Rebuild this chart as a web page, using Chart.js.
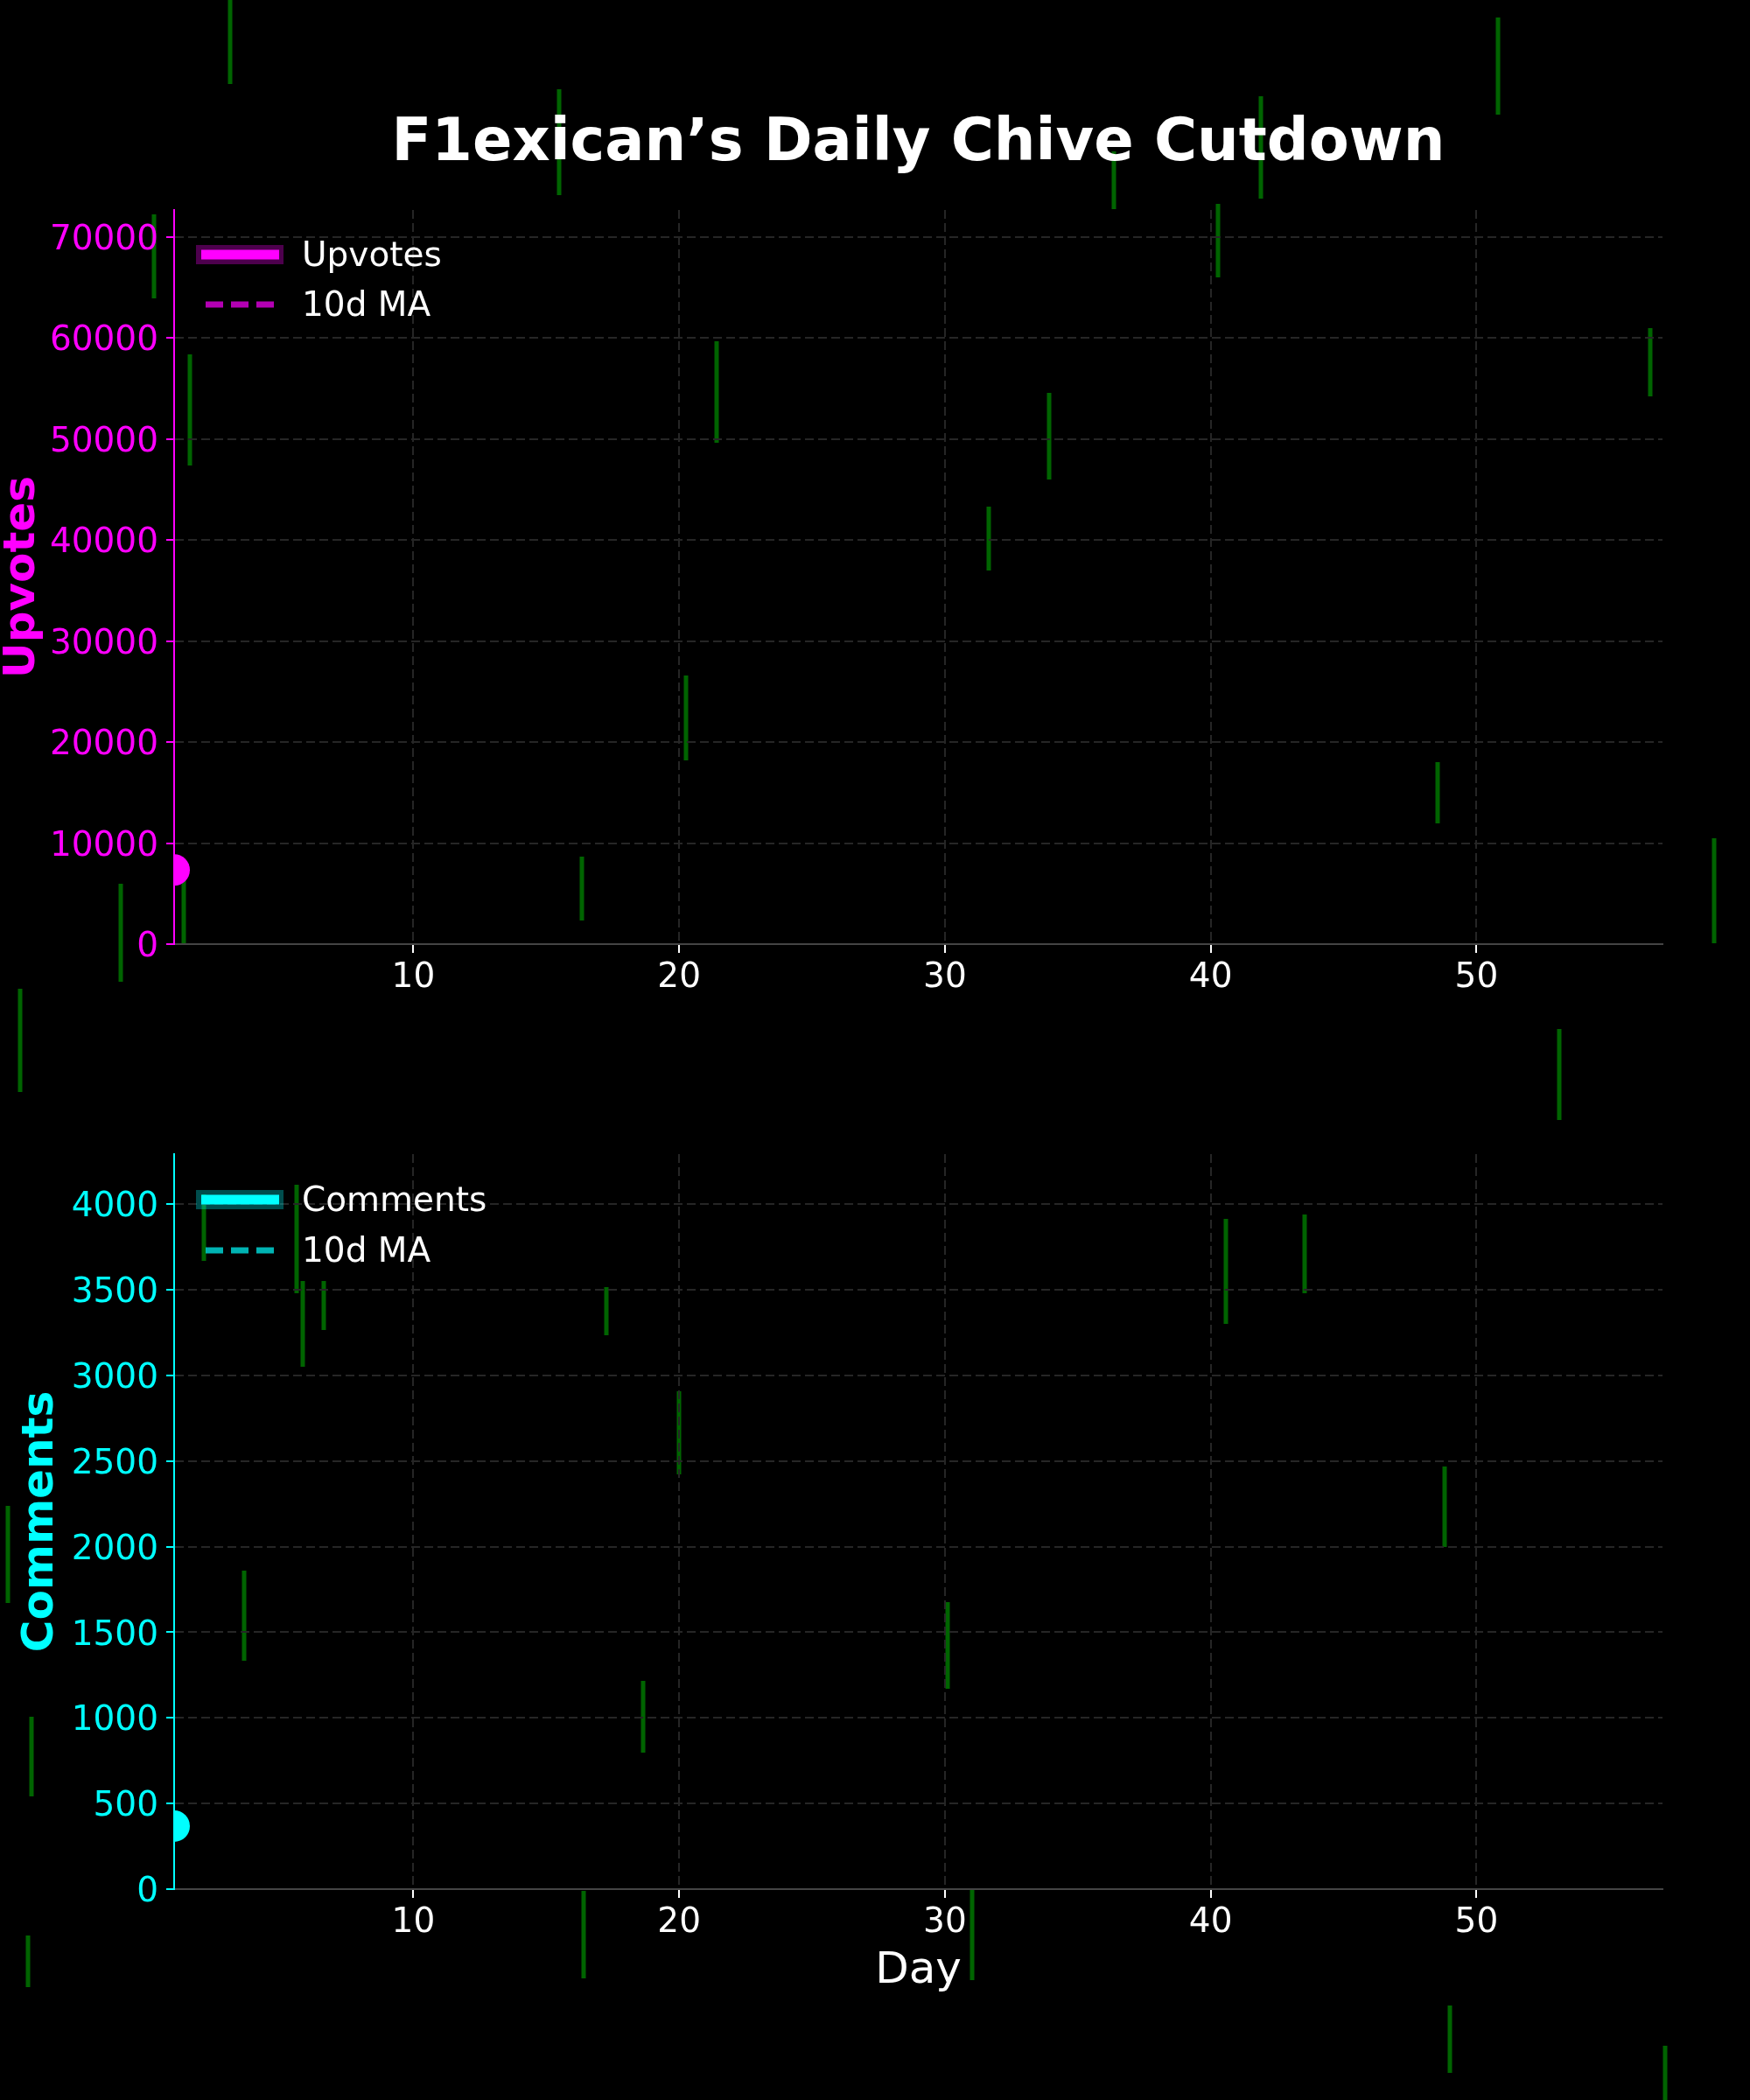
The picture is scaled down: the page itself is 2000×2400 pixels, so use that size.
<!DOCTYPE html>
<html>
<head>
<meta charset="utf-8">
<script src="https://cdn.jsdelivr.net/npm/chart.js@4.4.1/dist/chart.umd.min.js"></script>
<style>
  html, body { margin: 0; padding: 0; background: #000; }
  #fig { position: relative; width: 2000px; height: 2400px; background: #000; overflow: hidden; }
  .panel { position: absolute; left: 0; width: 2000px; height: 1200px; }
  canvas { display: block; }
</style>
</head>
<body>
<div id="fig">
  <div class="panel" style="top:0px"><canvas id="c1" width="2000" height="1200"></canvas></div>
  <div class="panel" style="top:1200px"><canvas id="c2" width="2000" height="1200"></canvas></div>
</div>
<script>
// ---------------- data ----------------
const days = [1];
const upvotes = [7340];
const upvotesMA = [null];
const comments = [368];
const commentsMA = [null];

const dayTicks = [10, 20, 30, 40, 50];
const upvoteTicks = [0, 10000, 20000, 30000, 40000, 50000, 60000, 70000];
const commentTicks = [0, 500, 1000, 1500, 2000, 2500, 3000, 3500, 4000];
const dayRange = [1, 57];
const upvoteRange = [0, 72660];
const commentRange = [0, 4293];

const chartTitle = 'F1exican\u2019s Daily Chive Cutdown';

// decoration only ("matrix rain" streaks behind the figure): [x, yTop, yBottom] in figure px
const rainStreaks = [
  [263,0,96],[639,102,223],[1712,20,131],[1273,173,239],[1441,110,227],[176,245,341],
  [1392,233,317],[217,405,532],[819,390,506],[1886,375,453],[1199,449,548],[1130,579,652],
  [784,772,869],[1643,871,941],[665,979,1052],[138,1010,1122],[210,995,1079],[1959,958,1078],
  [23,1130,1248],[1782,1176,1280],[233,1365,1441],[339,1354,1478],[346,1464,1562],[370,1464,1520],
  [693,1471,1526],[776,1590,1685],[1401,1393,1513],[1491,1388,1478],[1651,1676,1768],[9,1721,1832],
  [279,1795,1898],[1083,1831,1930],[735,1921,2003],[36,1962,2053],[667,2161,2261],[1111,2158,2263],
  [32,2212,2271],[1657,2292,2369],[1903,2338,2400]
];

// ---------------- styling ----------------
const FONT = "'DejaVu Sans', sans-serif";
Chart.defaults.font.family = FONT;
const GRID = '#262626';

const rainPlugin = {
  id: 'rain',
  beforeDraw(chart, args, opts) {
    const ctx = chart.ctx;
    ctx.save();
    ctx.strokeStyle = '#006400';
    ctx.lineWidth = 5;
    ctx.lineCap = 'butt';
    for (const [x, y1, y2] of rainStreaks) {
      ctx.beginPath();
      ctx.moveTo(x, y1 - opts.offsetY);
      ctx.lineTo(x, y2 - opts.offsetY);
      ctx.stroke();
    }
    ctx.restore();
  }
};

const legendPlugin = {
  id: 'glowLegend',
  afterDraw(chart, args, o) {
    const { ctx, chartArea: { left, top } } = chart;
    const ds = chart.data.datasets;
    const y1 = top + o.row1, y2 = top + o.row2;
    ctx.save();
    ctx.fillStyle = o.glow;
    ctx.fillRect(left + 25, y1 - 11, 100, 22);
    ctx.fillStyle = ds[0].borderColor;
    ctx.fillRect(left + 31, y1 - 5.5, 89, 11);
    ctx.strokeStyle = ds[1].borderColor;
    ctx.lineWidth = 7;
    ctx.setLineDash([20, 9]);
    ctx.beginPath();
    ctx.moveTo(left + 36, y2);
    ctx.lineTo(left + 114, y2);
    ctx.stroke();
    ctx.setLineDash([]);
    ctx.fillStyle = '#ffffff';
    ctx.font = '39px ' + FONT;
    ctx.textBaseline = 'middle';
    ctx.textAlign = 'left';
    ctx.fillText(ds[0].label, left + 146, y1 + 3);
    ctx.fillText(ds[1].label, left + 146, y2 + 3);
    ctx.restore();
  }
};

function makeChart(id, o) {
  return new Chart(document.getElementById(id), {
    type: 'line',
    data: {
      datasets: [
        {
          label: o.label,
          data: days.map((d, i) => ({ x: d, y: o.values[i] })),
          borderColor: o.color, backgroundColor: o.color,
          borderWidth: 11, pointRadius: 18, pointHoverRadius: 18, pointBorderWidth: 0,
          clip: 0
        },
        {
          label: '10d MA',
          data: days.map((d, i) => ({ x: d, y: o.ma[i] })),
          borderColor: o.maColor, borderDash: [20, 9], borderWidth: 7, pointRadius: 0,
          clip: 0
        }
      ]
    },
    options: {
      responsive: false, animation: false, devicePixelRatio: 1,
      events: [],
      layout: { padding: o.padding },
      plugins: {
        legend: { display: false },
        tooltip: { enabled: false },
        title: o.title,
        rain: { offsetY: o.offsetY },
        glowLegend: { row1: o.row1, row2: o.row2, glow: o.glow }
      },
      scales: {
        x: {
          type: 'linear', min: dayRange[0], max: dayRange[1],
          afterFit: a => { a.height = o.xHeight; },
          afterBuildTicks: a => { a.ticks = dayTicks.map(v => ({ value: v })); },
          grid: { color: GRID, lineWidth: 2, tickColor: '#ffffff', tickLength: 10, tickWidth: 2, tickBorderDash: [] },
          border: { color: '#444444', width: 2, dash: [10, 5] },
          ticks: { color: '#ffffff', font: { size: 39 }, padding: 5, maxRotation: 0, callback: v => String(v) },
          title: o.xTitle
        },
        y: {
          type: 'linear', min: o.range[0], max: o.range[1],
          afterFit: a => { a.width = 199; },
          afterBuildTicks: a => { a.ticks = o.ticks.map(v => ({ value: v })); },
          grid: { color: GRID, lineWidth: 2, tickColor: o.color, tickLength: 9, tickWidth: 2, tickBorderDash: [] },
          border: { color: o.color, width: 2, dash: [10, 5] },
          ticks: { color: o.color, font: { size: 39 }, padding: 9, labelOffset: 4, callback: v => String(v) },
          title: {
            display: true, text: o.yTitle, color: o.color,
            font: { size: 50, weight: 'bold', lineHeight: 1.2 },
            padding: { top: o.yTitlePad, bottom: 0 }
          }
        }
      }
    },
    plugins: [rainPlugin, legendPlugin]
  });
}

makeChart('c1', {
  label: 'Upvotes', values: upvotes, ma: upvotesMA,
  color: '#ff00ff', maColor: 'rgba(255,0,255,0.7)', glow: 'rgba(255,0,255,0.3)',
  range: upvoteRange, ticks: upvoteTicks, yTitle: 'Upvotes', yTitlePad: -4,
  padding: { left: 0, right: 100, top: 0, bottom: 0 },
  xHeight: 121, offsetY: 0, row1: 51, row2: 108,
  title: {
    display: true, text: chartTitle, color: '#ffffff', fullSize: false,
    font: { size: 67, weight: 'bold', lineHeight: 1.2 },
    padding: { top: 125, bottom: 34.6 }
  },
  xTitle: { display: false }
});

makeChart('c2', {
  label: 'Comments', values: comments, ma: commentsMA,
  color: '#00ffff', maColor: 'rgba(0,255,255,0.7)', glow: 'rgba(0,255,255,0.3)',
  range: commentRange, ticks: commentTicks, yTitle: 'Comments', yTitlePad: 17,
  padding: { left: 0, right: 100, top: 119, bottom: 91 },
  xHeight: 150, offsetY: 1200, row1: 52, row2: 110,
  title: { display: false },
  xTitle: {
    display: true, text: 'Day', color: '#ffffff',
    font: { size: 50, lineHeight: 1.2 },
    padding: { top: 0, bottom: 26 }
  }
});
</script>
</body>
</html>
